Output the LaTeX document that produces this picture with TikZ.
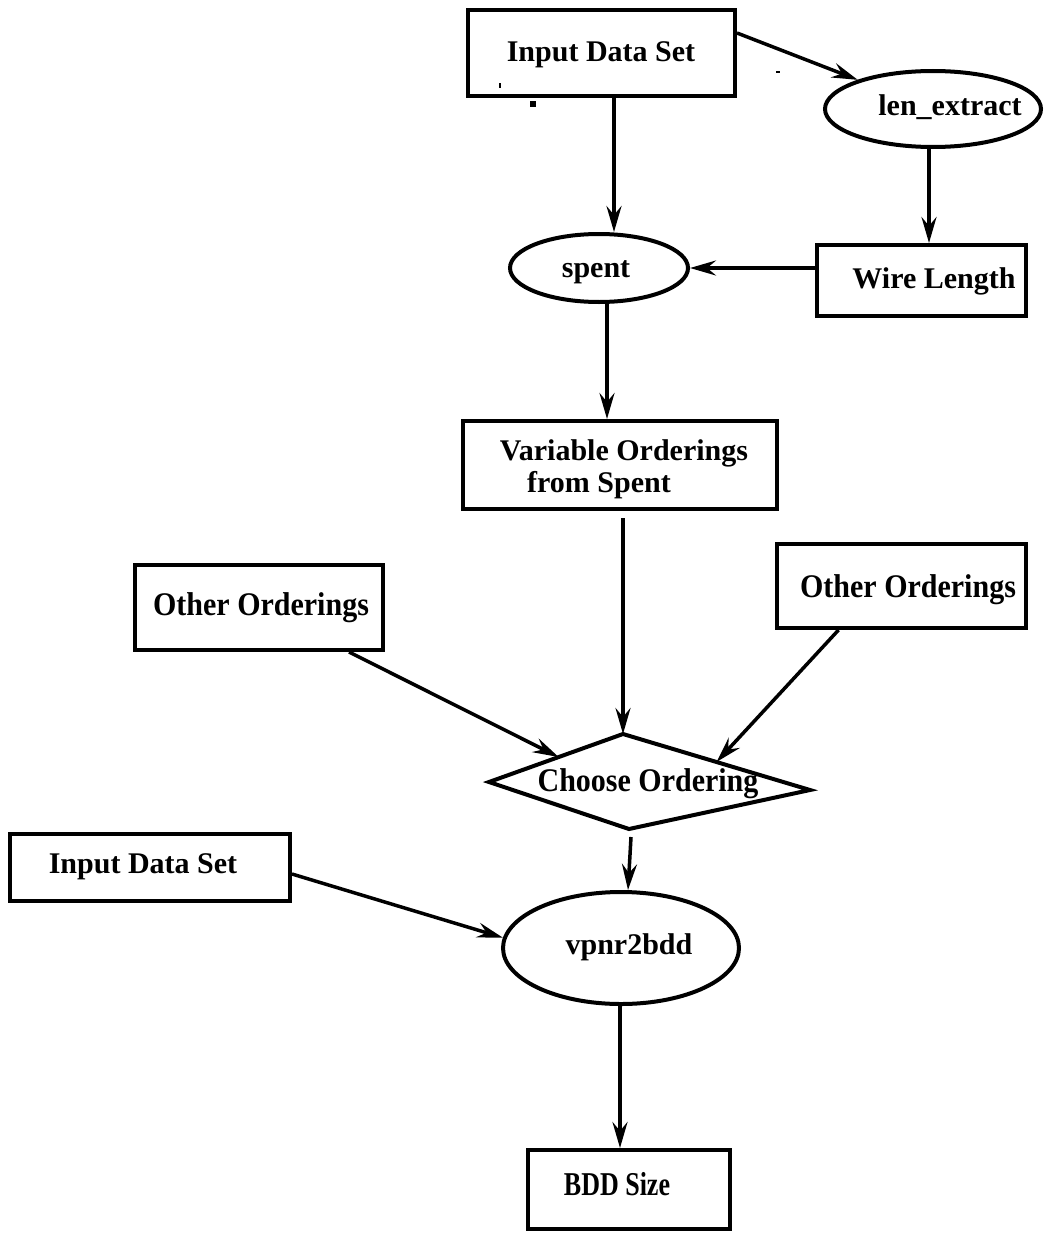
\documentclass[tikz,border=0pt]{standalone}
\usepackage{fontspec}
\setmainfont{Liberation Serif}
\usetikzlibrary{arrows.meta,shapes.geometric,calc}
\tikzset{
  boxnode/.style={draw, line width=4pt, rectangle, inner sep=0pt},
  ovalnode/.style={draw, line width=4pt, ellipse, inner sep=0pt},
  lbl/.style={anchor=base, inner sep=0pt, font=\fontsize{30pt}{32pt}\selectfont\bfseries},
  arr/.style={line width=3.5pt, -{Stealth[length=26pt,width=15pt,inset=9pt]}},
}
\newcommand{\tallish}[2]{\scalebox{1}[#1]{#2}}
\begin{document}
\begin{tikzpicture}[x=1pt,y=-1pt]
\useasboundingbox (0,0) rectangle (1046,1236);

% shapes
\node[boxnode, minimum width=267pt, minimum height=86pt] (inA) at (601.5,53) {};
\node[ovalnode, minimum width=216pt, minimum height=76pt] (lenx) at (933,109) {};
\node[ovalnode, minimum width=178pt, minimum height=68pt] (sp) at (599,268) {};
\node[boxnode, minimum width=209pt, minimum height=71pt] (wire) at (921.5,280.5) {};
\node[boxnode, minimum width=314pt, minimum height=88pt] (var) at (620,465) {};
\node[boxnode, minimum width=248pt, minimum height=85pt] (othL) at (259,607.5) {};
\node[boxnode, minimum width=249pt, minimum height=84pt] (othR) at (901.5,586) {};
\node[boxnode, minimum width=280pt, minimum height=67pt] (inB) at (150,867.5) {};
\node[ovalnode, minimum width=236pt, minimum height=112pt] (vp) at (621,948) {};
\node[boxnode, minimum width=202pt, minimum height=79pt] (bdd) at (629,1189.5) {};

% decision diamond
\coordinate (dl) at (489,782);
\coordinate (dt) at (623,734);
\coordinate (dr) at (810,790);
\coordinate (db) at (629,829);
\draw[line width=4pt, line join=miter] (dl) -- (dt) -- (dr) -- (db) -- cycle;
\coordinate (tipL) at ($(dl)!0.52!(dt)$);
\coordinate (tipR) at ($(dt)!0.5!(dr)$);

% labels
\node[lbl] (tInA) at (601,62) {Input Data Set};
\node[lbl] (tLenx) at (950,116) {len\_extract};
\node[lbl] (tSp) at (596,277) {spent};
\node[lbl] (tWire) at (934,288) {Wire Length};
\node[lbl] (tVar1) at (624,460) {Variable Orderings};
\node[lbl, anchor=base west] (tVar2) at (527,492) {from Spent};
\node[lbl] (tOthL) at (261,615) {\tallish{1.1}{Other Orderings}};
\node[lbl] (tOthR) at (908,597) {\tallish{1.1}{Other Orderings}};
\node[lbl] (tChoose) at (648,791) {\tallish{1.1}{Choose Ordering}};
\node[lbl] (tInB) at (143,873) {Input Data Set};
\node[lbl] (tVp) at (629,954) {vpnr2bdd};
\node[lbl, font=\fontsize{26pt}{28pt}\selectfont\bfseries] (tBdd) at (617,1195) {\tallish{1.28}{BDD Size}};

% connectors
\draw[arr] ([yshift=20pt]inA.east) -- (lenx);
\draw[arr] ([xshift=12.5pt]inA.south) -- ([xshift=15pt]sp.north);
\draw[arr] ([xshift=-4pt]lenx.south) -- ([xshift=7.5pt]wire.north);
\draw[arr] ([yshift=12.5pt]wire.west) -- (sp.east);
\draw[arr] ([xshift=8pt]sp.south) -- ([xshift=-13pt]var.north);
\draw[arr] ([xshift=3pt,yshift=-7pt]var.south) -- (dt);
\draw[arr] ([xshift=90pt]othL.south) -- (tipL);
\draw[arr] ([xshift=-63pt]othR.south) -- (tipR);
\draw[arr] ([xshift=2pt,yshift=-8pt]db) -- ([xshift=7pt]vp.north);
\draw[arr] ([yshift=-6.5pt]inB.east) -- (vp.175);
\draw[arr] ([xshift=-1pt]vp.south) -- ([xshift=-9pt]bdd.north);

% small specks
\fill (530,101) rectangle (536,107);
\fill (499,83) rectangle (501,88);
\fill (776,71) rectangle (780,73);
\end{tikzpicture}
\end{document}
